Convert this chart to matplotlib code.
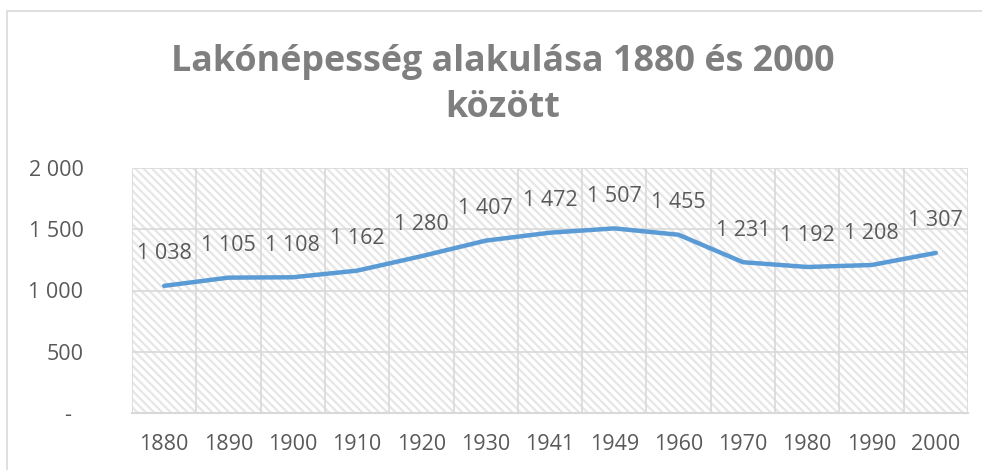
import matplotlib
matplotlib.use("Agg")
import matplotlib.pyplot as plt
from matplotlib.patches import Rectangle

years = ["1880", "1890", "1900", "1910", "1920", "1930", "1941",
         "1949", "1960", "1970", "1980", "1990", "2000"]
population = [1038, 1105, 1108, 1162, 1280, 1407, 1472,
              1507, 1455, 1231, 1192, 1208, 1307]
y_ticks = [0, 500, 1000, 1500, 2000]
y_tick_labels = ["-  ", "500", "1 000", "1 500", "2 000"]

TEXT = "#595959"
GRID = "#d9d9d9"
LINE = "#5b9bd5"

plt.rcParams["font.family"] = ["Open Sans", "DejaVu Sans"]
plt.rcParams["hatch.linewidth"] = 1.6

fig = plt.figure(figsize=(9.82, 4.70), dpi=100)
fig.patch.set_facecolor("white")

# chart border (cut off on the right and bottom in the original)
fig.patches.append(Rectangle((7 / 982, -0.1), 1.2, 1 - 11 / 470 + 0.1,
                             transform=fig.transFigure, fill=False,
                             edgecolor=GRID, linewidth=1.2))

ax = fig.add_axes([132 / 982, 1 - 413 / 470, 836 / 982, 245 / 470])
n = len(years)
x = list(range(n))
ax.set_xlim(-0.5, n - 0.5)
ax.set_ylim(0, 2000)

# hatched plot-area background
ax.fill_between([-0.5, n - 0.5], 0, 2000, facecolor="white",
                edgecolor="#e6e6e6", hatch="\\\\\\\\", linewidth=0, zorder=0)

for b in [i - 0.5 for i in range(n + 1)]:
    ax.axvline(b, color=GRID, linewidth=1.2, zorder=1)
for t in y_ticks[1:]:
    ax.axhline(t, color=GRID, linewidth=1.2, zorder=1)

ax.plot(x, population, color=LINE, linewidth=3.2, solid_capstyle="round",
        zorder=3)

for xi, v in zip(x, population):
    lbl = f"{v:,}".replace(",", " ")
    ax.annotate(lbl, (xi, v), xytext=(0, 23), textcoords="offset points",
                ha="center", va="center", fontsize=15.5, color=TEXT, zorder=4)

for s in ["top", "right", "left"]:
    ax.spines[s].set_visible(False)
ax.spines["bottom"].set_color(GRID)
ax.spines["bottom"].set_linewidth(1.5)

ax.set_xticks(x)
ax.set_xticklabels(years)
ax.set_yticks(y_ticks)
ax.set_yticklabels(y_tick_labels)
ax.tick_params(axis="both", length=0, labelsize=15.5, labelcolor=TEXT)
ax.tick_params(axis="x", pad=15)
ax.tick_params(axis="y", pad=35)

fig.text(503 / 982, 1 - 62 / 470, "Lakónépesség alakulása 1880 és 2000",
         ha="center", va="center", fontsize=25.8, fontweight="bold",
         color="#7f7f7f")
fig.text(503 / 982, 1 - 108 / 470, "között",
         ha="center", va="center", fontsize=25.8, fontweight="bold",
         color="#7f7f7f")

fig.savefig("out.png", dpi=100)
